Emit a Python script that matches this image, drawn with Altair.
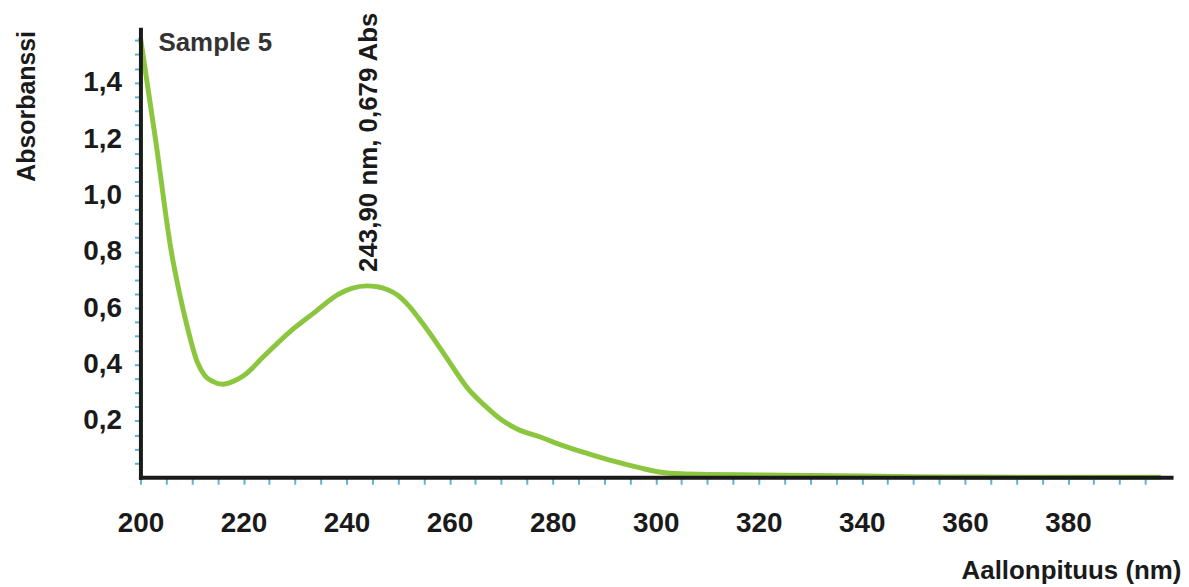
import altair as alt
import pandas as pd

# Spectrum values (wavelength nm, absorbance)
wavelength = [200, 203, 206, 207.5, 209, 211, 212.5, 214, 216, 218, 220, 224, 228.6,
              233.8, 238.3, 241, 243.9, 246, 248, 250, 252, 255, 259, 263.4, 268,
              270, 273, 278, 282, 287, 292, 297, 301, 305, 310, 320, 330, 340, 350,
              360, 370, 385, 398]
absorbance = [1.56, 1.19, 0.80, 0.66, 0.54, 0.41, 0.36, 0.34, 0.33, 0.34, 0.36, 0.43, 0.51,
              0.585, 0.648, 0.670, 0.679, 0.676, 0.665, 0.645, 0.61, 0.54, 0.435, 0.318, 0.235,
              0.205, 0.172, 0.14, 0.112, 0.083, 0.056, 0.033, 0.018, 0.012, 0.010, 0.008, 0.006,
              0.004, 0.002, 0.001, 0.0, 0.0, 0.0]

x_tick_values = [200 + 5 * i for i in range(40)]          # minor ticks every 5 nm
x_label_values = [200, 220, 240, 260, 280, 300, 320, 340, 360, 380]
y_tick_values = [round(0.05 * i, 2) for i in range(1, 32)]  # minor ticks every 0.05
y_label_values = [0.2, 0.4, 0.6, 0.8, 1.0, 1.2, 1.4]

peak_x = [243.9]
peak_y = [0.679]
peak_text = ["243,90 nm, 0,679 Abs"]

sample_x = [203.5]
sample_y = [1.54]
sample_text = ["Sample 5"]

df = pd.DataFrame({"nm": wavelength, "abs": absorbance})
peak_df = pd.DataFrame({"nm": peak_x, "abs": peak_y, "t": peak_text})
sample_df = pd.DataFrame({"nm": sample_x, "abs": sample_y, "t": sample_text})

FONT = "Liberation Sans"
TXT = "#1a1a1a"
TICK = "#5fb0d8"

x_scale = alt.Scale(domain=[200, 400], nice=False, zero=False)
y_scale = alt.Scale(domain=[0, 1.59], nice=False)

x_lab = "[" + ",".join(str(v) for v in x_label_values) + "]"
y_lab = "[" + ",".join(str(v) for v in y_label_values) + "]"

x_axis = alt.Axis(
    values=x_tick_values, tickCount=200,
    labelExpr=f"indexof({x_lab}, datum.value) >= 0 ? datum.label : ''",
    grid=False, domainColor=TXT, domainWidth=4, domainCap="square",
    tickColor=TICK, tickWidth=2, tickSize=7,
    labelFont=FONT, labelFontSize=28, labelFontWeight="bold", labelColor=TXT,
    labelPadding=26, labelFlush=False, labelOverlap=False,
    title="Aallonpituus (nm)", titleFont=FONT, titleFontSize=26, titleFontWeight="bold",
    titleColor=TXT, titleX=1045, titleY=94, titleAlign="right", titleBaseline="middle",
    zindex=1,
)
y_axis = alt.Axis(
    values=y_tick_values, tickCount=200,
    labelExpr=f"indexof({y_lab}, datum.value) >= 0 ? replace(format(datum.value, '.1f'), '.', ',') : ''",
    grid=False, domainColor=TXT, domainWidth=4, domainCap="square",
    tickColor=TICK, tickWidth=2, tickSize=6,
    labelFont=FONT, labelFontSize=28, labelFontWeight="bold", labelColor=TXT,
    labelPadding=13, labelFlush=False, labelOverlap=False,
    title="Absorbanssi", titleFont=FONT, titleFontSize=25, titleFontWeight="bold",
    titleColor=TXT, titleX=-114, titleY=77, titleAngle=270, titleAlign="center",
    titleBaseline="middle",
    zindex=1,
)

line = alt.Chart(df).mark_line(color="#8cc63f", strokeWidth=5, interpolate="monotone").encode(
    x=alt.X("nm:Q", scale=x_scale, axis=x_axis),
    y=alt.Y("abs:Q", scale=y_scale, axis=y_axis),
)

peak = alt.Chart(peak_df).mark_text(
    angle=270, align="left", baseline="middle", dx=14, dy=2,
    font=FONT, fontSize=26, fontWeight="bold", color=TXT,
).encode(x=alt.X("nm:Q", scale=x_scale), y=alt.Y("abs:Q", scale=y_scale), text="t:N")

sample = alt.Chart(sample_df).mark_text(
    align="left", baseline="middle", font=FONT, fontSize=26, fontWeight="bold", color="#333333",
).encode(x=alt.X("nm:Q", scale=x_scale), y=alt.Y("abs:Q", scale=y_scale), text="t:N")

chart = alt.layer(line, peak, sample).properties(
    width=1035, height=450,
    background="white",
    autosize=alt.AutoSizeParams(type="none"),
    padding={"left": 133, "top": 20, "right": 10, "bottom": 109},
).configure_view(strokeWidth=0, stroke="transparent")

chart.save("out.html", embed_options={"renderer": "svg", "actions": False})
